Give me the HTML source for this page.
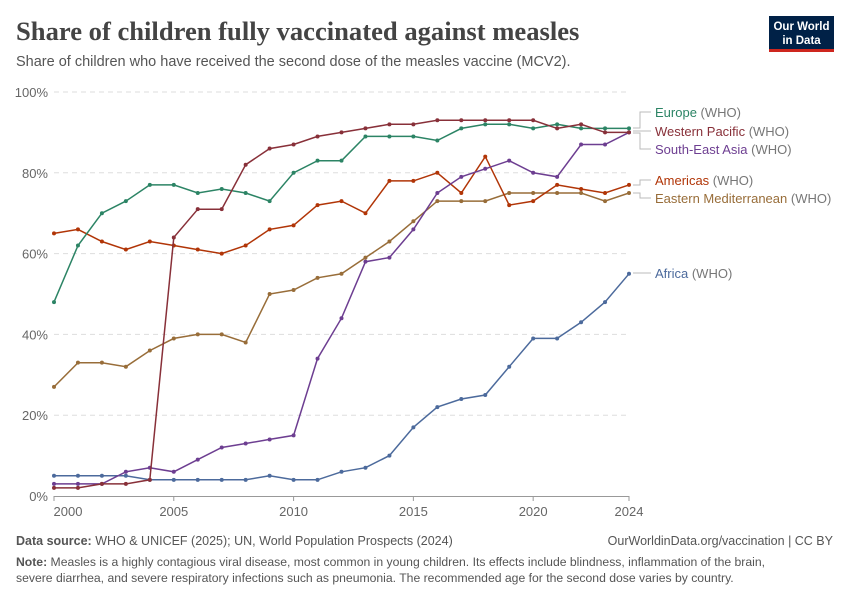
<!DOCTYPE html>
<html><head><meta charset="utf-8"><style>
body{margin:0;background:#fff;width:850px;height:600px;overflow:hidden;font-family:"Liberation Sans",sans-serif;}
</style></head><body>
<svg id="s" width="850" height="600" xmlns="http://www.w3.org/2000/svg" font-family="Liberation Sans, sans-serif">
<text x="16" y="40" font-family="Liberation Serif, serif" font-size="26.6" font-weight="bold" fill="#444">Share of children fully vaccinated against measles</text>
<text x="16" y="66" font-size="14.5" fill="#555">Share of children who have received the second dose of the measles vaccine (MCV2).</text>
<rect x="769" y="16" width="65" height="33" fill="#002147"/>
<rect x="769" y="49" width="65" height="3" fill="#ce261e"/>
<text x="801.5" y="30" font-size="11.5" fill="#fff" text-anchor="middle" font-weight="bold">Our World</text>
<text x="801.5" y="44" font-size="11.5" fill="#fff" text-anchor="middle" font-weight="bold">in Data</text>
<g id="grid"></g>
<g id="lines"></g>
<g font-size="13">
<text x="655" y="117" fill="#2c8465">Europe <tspan fill="#777">(WHO)</tspan></text>
<text x="655" y="136" fill="#883039">Western Pacific <tspan fill="#777">(WHO)</tspan></text>
<text x="655" y="154" fill="#6d3e91">South-East Asia <tspan fill="#777">(WHO)</tspan></text>
<text x="655" y="185" fill="#b13507">Americas <tspan fill="#777">(WHO)</tspan></text>
<text x="655" y="203" fill="#986d39">Eastern Mediterranean <tspan fill="#777">(WHO)</tspan></text>
<text x="655" y="278" fill="#4c6a9c">Africa <tspan fill="#777">(WHO)</tspan></text>
</g>
<g fill="none" stroke="#bbb" stroke-width="1">
<polyline points="633,128 640,128 640,112 651,112"/>
<polyline points="633,131 651,131"/>
<polyline points="633,133 640,133 640,149 651,149"/>
<polyline points="633,185 640,185 640,180 651,180"/>
<polyline points="633,193 640,193 640,198 651,198"/>
<polyline points="633,273 651,273"/>
</g>
<text x="16" y="545" font-size="12.5" fill="#555"><tspan font-weight="bold">Data source:</tspan> WHO &amp; UNICEF (2025); UN, World Population Prospects (2024)</text>
<text x="833" y="545" font-size="12.5" fill="#555" text-anchor="end">OurWorldinData.org/vaccination | CC BY</text>
<text x="16" y="566" font-size="12.2" fill="#555"><tspan font-weight="bold">Note:</tspan> Measles is a highly contagious viral disease, most common in young children. Its effects include blindness, inflammation of the brain,</text>
<text x="16" y="582" font-size="12.2" fill="#555">severe diarrhea, and severe respiratory infections such as pneumonia. The recommended age for the second dose varies by country.</text>
</svg>
<script>
var NS="http://www.w3.org/2000/svg";
function X(y){return 54+(y-2000)*(575/24);}
function Y(v){return 496-v*4.04;}
function el(p,t,a,txt){var e=document.createElementNS(NS,t);for(var k in a)e.setAttribute(k,a[k]);if(txt)e.textContent=txt;p.appendChild(e);return e;}
var g=document.getElementById("grid");
[20,40,60,80,100].forEach(function(v){el(g,"line",{x1:54,x2:629,y1:Y(v),y2:Y(v),stroke:"#ddd","stroke-dasharray":"5,4"});});
[0,20,40,60,80,100].forEach(function(v){el(g,"text",{x:48,y:Y(v)+5,"font-size":"13",fill:"#666","text-anchor":"end"},v+"%");});
el(g,"line",{x1:54,x2:629,y1:496.5,y2:496.5,stroke:"#999"});
[2000,2005,2010,2015,2020,2024].forEach(function(y){el(g,"line",{x1:X(y),x2:X(y),y1:496,y2:501,stroke:"#999"});
el(g,"text",{x:y==2000?X(y)+14:X(y),y:516,"font-size":"13","fill":"#666","text-anchor":"middle"},""+y);});
var S=[
["#4c6a9c",[5,5,5,5,4,4,4,4,4,5,4,4,6,7,10,17,22,24,25,32,39,39,43,48,55]],
["#986d39",[27,33,33,32,36,39,40,40,38,50,51,54,55,59,63,68,73,73,73,75,75,75,75,73,75]],
["#b13507",[65,66,63,61,63,62,61,60,62,66,67,72,73,70,78,78,80,75,84,72,73,77,76,75,77]],
["#6d3e91",[3,3,3,6,7,6,9,12,13,14,15,34,44,58,59,66,75,79,81,83,80,79,87,87,90]],
["#2c8465",[48,62,70,73,77,77,75,76,75,73,80,83,83,89,89,89,88,91,92,92,91,92,91,91,91]],
["#883039",[2,2,3,3,4,64,71,71,82,86,87,89,90,91,92,92,93,93,93,93,93,91,92,90,90]]];
var L=document.getElementById("lines");
S.forEach(function(s){var pts=s[1].map(function(v,i){return X(2000+i).toFixed(1)+","+Y(v).toFixed(1);}).join(" ");
el(L,"polyline",{points:pts,fill:"none",stroke:s[0],"stroke-width":1.5});
s[1].forEach(function(v,i){el(L,"circle",{cx:X(2000+i),cy:Y(v),r:2,fill:s[0]});});});
</script>
</body></html>
